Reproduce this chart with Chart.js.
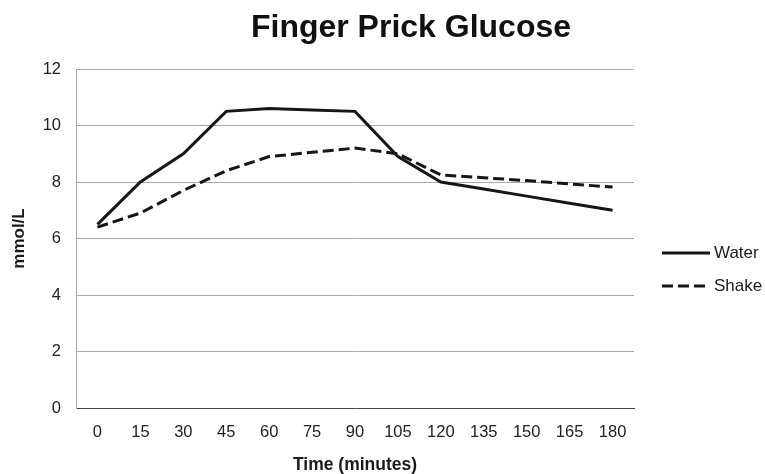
<!DOCTYPE html>
<html>
<head>
<meta charset="utf-8">
<script src="https://cdn.jsdelivr.net/npm/chart.js@4"></script>
<style>
  html, body { margin: 0; padding: 0; background: #fff; }
  #wrap { width: 765px; height: 474px; position: relative; }
</style>
</head>
<body>
<div id="wrap"><canvas id="glucoseChart"></canvas></div>
<script>
// --- Chart data ---
const timePoints = ['0', '15', '30', '45', '60', '75', '90', '105', '120', '135', '150', '165', '180'];
const waterValues = [6.5, 8.0, 9.0, 10.5, 10.6, 10.55, 10.5, 8.9, 8.0, 7.75, 7.5, 7.25, 7.0];
const shakeValues = [6.4, 6.9, 7.7, 8.4, 8.9, 9.05, 9.2, 9.0, 8.25, 8.15, 8.05, 7.93, 7.82];
const yTicks = [0, 2, 4, 6, 8, 10, 12];

const chartTitle = 'Finger Prick Glucose';
const FONT = '"Liberation Sans", Arial, Helvetica, sans-serif';

// title + right-hand legend drawn on the canvas
const headerLegend = {
    id: 'headerLegend',
    afterDraw(chart) {
        const ctx = chart.ctx;
        ctx.save();
        ctx.fillStyle = '#111';
        ctx.font = 'bold 32px ' + FONT;
        ctx.textAlign = 'center';
        ctx.textBaseline = 'alphabetic';
        ctx.fillText(chartTitle, 411, 37);

        chart.data.datasets.forEach((ds, i) => {
            const y = 253 + i * 33;
            ctx.beginPath();
            ctx.setLineDash(ds.borderDash || []);
            ctx.lineWidth = ds.borderWidth;
            ctx.strokeStyle = ds.borderColor;
            ctx.moveTo(662, y);
            ctx.lineTo(710, y);
            ctx.stroke();
            ctx.setLineDash([]);
            ctx.fillStyle = '#1a1a1a';
            ctx.font = '17px ' + FONT;
            ctx.textAlign = 'left';
            ctx.textBaseline = 'middle';
            ctx.fillText(ds.label, 714, y);
        });
        ctx.restore();
    }
};

new Chart(document.getElementById('glucoseChart'), {
    type: 'line',
    data: {
        labels: timePoints,
        datasets: [{
            label: 'Water',
            data: waterValues,
            borderColor: '#161616',
            borderWidth: 3,
            pointRadius: 0,
            tension: 0,
            fill: false
        }, {
            label: 'Shake',
            data: shakeValues,
            borderColor: '#161616',
            borderWidth: 3,
            borderDash: [11, 5],
            pointRadius: 0,
            tension: 0,
            fill: false
        }]
    },
    options: {
        responsive: true,
        maintainAspectRatio: false,
        animation: false,
        layout: { padding: { top: 69, right: 131, left: 0, bottom: 0 } },
        plugins: {
            legend: { display: false },
            title: { display: false },
            tooltip: { enabled: false }
        },
        scales: {
            x: {
                offset: true,
                grid: { display: false, drawTicks: false },
                border: { display: true, color: '#444', width: 1, dash: [3, 2] },
                ticks: { color: '#222', padding: 15, font: { family: FONT, size: 16.5 } },
                title: {
                    display: true,
                    text: 'Time (minutes)',
                    color: '#1a1a1a',
                    padding: { top: 0, bottom: -2 },
                    font: { family: FONT, size: 17.5, weight: 'bold' }
                },
                afterFit: (scale) => { scale.height = 66; }
            },
            y: {
                min: 0,
                max: 12,
                afterBuildTicks: (scale) => { scale.ticks = yTicks.map(v => ({ value: v })); },
                grid: {
                    drawTicks: false,
                    color: (c) => (c.tick && c.tick.value === 0) ? 'rgba(0,0,0,0)' : '#a9a9a9',
                    lineWidth: 1
                },
                border: { display: true, color: '#a9a9a9', width: 1 },
                ticks: { color: '#222', padding: 15, font: { family: FONT, size: 16.5 } },
                title: {
                    display: true,
                    text: 'mmol/L',
                    color: '#1a1a1a',
                    padding: { top: 9, bottom: 0 },
                    font: { family: FONT, size: 17, weight: 'bold' }
                },
                afterFit: (scale) => { scale.width = 76; }
            }
        }
    },
    plugins: [headerLegend]
});
</script>
</body>
</html>
